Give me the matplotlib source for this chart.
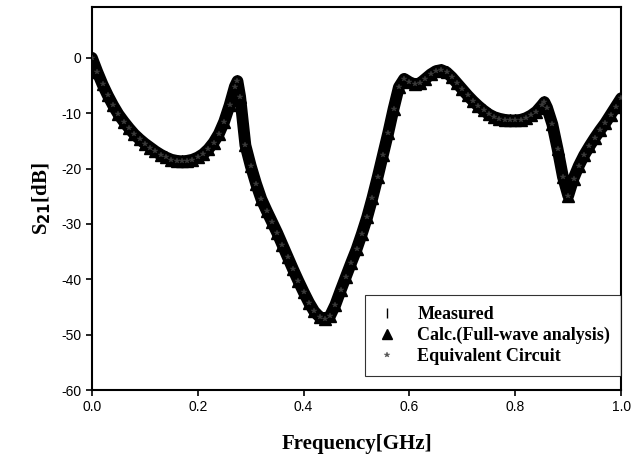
import numpy as np
import matplotlib
matplotlib.use("Agg")
import matplotlib.pyplot as plt

plt.rcParams["axes.unicode_minus"] = False

# S21 response (all three curves overlap)
freq = [0.00, 0.01, 0.02, 0.03, 0.04, 0.05, 0.06, 0.07, 0.08, 0.09,
        0.10, 0.11, 0.12, 0.13, 0.14, 0.15, 0.16, 0.17, 0.18, 0.19,
        0.20, 0.21, 0.22, 0.23, 0.24, 0.25, 0.26, 0.27, 0.275, 0.28,
        0.29, 0.30, 0.31, 0.32, 0.33, 0.34, 0.35, 0.36, 0.37, 0.38,
        0.39, 0.40, 0.41, 0.42, 0.43, 0.44, 0.45, 0.46, 0.47, 0.48,
        0.49, 0.50, 0.51, 0.52, 0.53, 0.54, 0.55, 0.56, 0.57, 0.58,
        0.59, 0.60, 0.61, 0.62, 0.63, 0.64, 0.65, 0.66, 0.67, 0.68,
        0.69, 0.70, 0.71, 0.72, 0.73, 0.74, 0.75, 0.76, 0.77, 0.78,
        0.79, 0.80, 0.81, 0.82, 0.83, 0.84, 0.85, 0.855, 0.86, 0.87,
        0.88, 0.89, 0.90, 0.91, 0.92, 0.93, 0.94, 0.95, 0.96, 0.97,
        0.98, 0.99, 1.00]
s21 = [0.0, -2.5, -4.8, -6.8, -8.6, -10.2, -11.5, -12.7, -13.8, -14.7,
       -15.5, -16.2, -16.9, -17.5, -18.0, -18.4, -18.6, -18.7, -18.6, -18.4,
       -18.0, -17.4, -16.5, -15.3, -13.7, -11.5, -8.6, -5.2, -4.2, -7.0,
       -15.8, -19.5, -22.7, -25.5, -27.6, -29.6, -31.6, -33.8, -36.0, -38.2,
       -40.3, -42.3, -44.2, -45.8, -46.8, -47.2, -46.6, -44.6, -42.0, -39.5,
       -37.0, -34.6, -31.8, -28.8, -25.3, -21.5, -17.5, -13.5, -9.2, -5.3,
       -3.8, -4.4, -4.8, -4.6, -3.8, -3.0, -2.4, -2.2, -2.6, -3.5,
       -4.6, -5.7, -6.8, -7.8, -8.7, -9.5, -10.2, -10.7, -11.0, -11.2,
       -11.3, -11.3, -11.2, -10.9, -10.4, -9.7, -8.6, -8.0, -9.0, -12.0,
       -16.5, -21.5, -24.9, -21.8, -19.5, -17.6, -16.0, -14.5, -13.1, -11.8,
       -10.3, -8.8, -7.3]

labels = ["Measured", "Calc.(Full-wave analysis)", "Equivalent Circuit"]
xticks = [0.0, 0.2, 0.4, 0.6, 0.8, 1.0]
yticks = [0, -10, -20, -30, -40, -50, -60]

fig = plt.figure(figsize=(6.43, 4.61), dpi=100)
ax = fig.add_axes([0.143, 0.154, 0.823, 0.831])

# thick band formed by the overlapping markers
ax.plot(freq, s21, color="black", lw=8.5, solid_capstyle="round", zorder=2)
ax.plot(freq, s21, linestyle="none", marker="|", color="black",
        markersize=7, label=labels[0], zorder=3)
ax.plot(freq, s21, linestyle="none", marker="^", color="black",
        markersize=9, label=labels[1], zorder=3)
ax.plot(freq, s21, linestyle="none", marker="*", color="#3a3a3a",
        markersize=4, markeredgewidth=0.3, label=labels[2], zorder=4)

ax.set_xlim(0.0, 1.0)
ax.set_ylim(-60, 9.2)
ax.set_xticks(xticks)
ax.set_xticklabels([f"{t:.1f}" for t in xticks])
ax.set_yticks(yticks)
ax.tick_params(direction="out", length=4, width=1.2, labelsize=10,
               top=False, right=False)
for lab in ax.get_xticklabels() + ax.get_yticklabels():
    lab.set_family("Liberation Sans")
for sp in ax.spines.values():
    sp.set_linewidth(1.5)

ax.set_xlabel("Frequency[GHz]", family="Liberation Serif", fontweight="bold",
              fontsize=15, labelpad=14)
ax.set_ylabel("S$_{\\mathbf{21}}$[dB]", family="Liberation Serif",
              fontweight="bold", fontsize=15, labelpad=6)

leg = ax.legend(loc="lower right", frameon=True, fancybox=False,
                edgecolor="black", borderpad=0.6, handlelength=1.2,
                handletextpad=1.1, labelspacing=0.22, borderaxespad=0,
                bbox_to_anchor=(1.0, 0.036),
                prop={"family": "Liberation Serif", "weight": "bold", "size": 13})
leg.get_frame().set_linewidth(0.8)
leg.legend_handles[1].set_markersize(7)
leg.legend_handles[2].set_color("#555555")

fig.savefig("out.png", dpi=100)
